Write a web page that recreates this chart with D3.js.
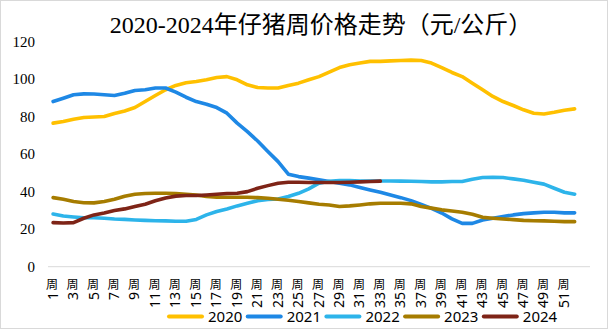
<!DOCTYPE html>
<html>
<head>
<meta charset="utf-8">
<script src="https://cdn.jsdelivr.net/npm/d3@7"></script>
<style>
	body { margin: 0; background: #fff; }
	svg { display: block; }
</style>
</head>
<body>
<svg id="chart"></svg>
<script>
var w = 608;
var h = 330;

// weeks 1..53 on the category axis, every other one labelled
var weeks = d3.range(1, 54);
var tickWeeks = d3.range(1, 52, 2);
var yTicks = [0, 20, 40, 60, 80, 100, 120];

var years = ["2020", "2021", "2022", "2023", "2024"];
var colors = ["#FFC000", "#1E88E5", "#2DB4EA", "#A67C00", "#7E2417"];

var p2020 = [76.5, 77.4, 78.6, 79.5, 79.8, 80, 81.6, 83, 84.8, 88,
	91.2, 94.3, 96.6, 98, 98.7, 99.6, 100.8, 101.3, 99.6, 96.9,
	95.5, 95.2, 95.2, 96.6, 97.8, 99.6, 101.3, 103.7, 106.1, 107.6,
	108.5, 109.4, 109.4, 109.7, 109.9, 110.1, 109.9, 108.5, 106.1, 103.5,
	101.3, 97.8, 94.3, 90.7, 88, 85.9, 83.6, 81.8, 81.4, 82.3, 83.4, 84.1];
var p2021 = [88, 89.8, 91.6, 92.1, 92, 91.6, 91.2, 92.4, 93.9, 94.3,
	95.2, 95.2, 93, 90.3, 88, 86.6, 84.8, 81.8, 76.5, 72,
	67, 61.4, 56, 49.3, 48, 47.2, 46.3, 45.4, 44.5, 43.6,
	42.2, 40.9, 39.7, 38.2, 36.8, 35.2, 33.2, 31.1, 28.6, 25.5,
	23.1, 23.1, 24.9, 25.8, 26.7, 27.6, 28.3, 28.7, 29, 29, 28.7, 28.7];
var p2022 = [28.1, 27, 26.5, 26.1, 26.1, 25.8, 25.4, 25.2, 24.9, 24.7,
	24.5, 24.4, 24.2, 24.2, 25.2, 27.6, 29.4, 30.8, 32.4, 33.8,
	35.1, 35.8, 36.1, 37.4, 39.1, 41.5, 44.5, 45.5, 45.9, 45.9,
	45.7, 45.7, 45.7, 45.7, 45.6, 45.5, 45.4, 45.2, 45.2, 45.4,
	45.4, 46.6, 47.5, 47.7, 47.5, 46.8, 46.1, 45, 44, 41.8, 39.7, 38.6];
var p2023 = [36.8, 35.9, 34.7, 34.1, 34, 34.7, 35.9, 37.5, 38.6, 39,
	39.1, 39.1, 39, 38.6, 38.2, 37.4, 37, 37, 37, 37,
	36.8, 36.5, 35.9, 35.4, 34.7, 34, 33.3, 32.9, 32.1, 32.4,
	32.9, 33.5, 33.8, 33.8, 33.8, 33.5, 32.1, 31.2, 30.3, 29.7,
	29, 27.9, 26.3, 25.8, 25.4, 25.1, 24.7, 24.5, 24.4, 24.2, 24, 24];
var p2024 = [23.5, 23.3, 23.5, 25.8, 27.6, 28.6, 29.9, 30.8, 32.1, 33.3,
	35.1, 36.6, 37.6, 37.9, 37.9, 38.2, 38.6, 39, 39.1, 40,
	41.8, 43.2, 44.5, 45, 45, 44.9, 44.9, 44.9, 44.9, 45,
	45.2, 45.4, 45.6];

var series = [p2020, p2021, p2022, p2023, p2024];

var svg = d3.select("#chart")
	.attr("width", w)
	.attr("height", h)
	.attr("viewBox", "0 0 " + w + " " + h);

//outer frame
svg.append("rect")
	.attr("x", 0.5).attr("y", 0.5)
	.attr("width", w - 1).attr("height", h - 2)
	.attr("fill", "#fff")
	.attr("stroke", "#d9d9d9");

svg.append("text")
	.attr("x", 321)
	.attr("y", 33)
	.attr("text-anchor", "middle")
	.attr("font-family", "'Liberation Serif', 'Noto Sans CJK SC'")
	.attr("font-size", 24)
	.attr("fill", "#000")
	.text("2020-2024年仔猪周价格走势（元/公斤）");

var x = d3.scaleBand()
	.domain(weeks)
	.range([48, 590])
	.padding(0);

var y = d3.scaleLinear()
	.domain([0, 120])
	.range([266.7, 41.5]);

var cx = function (wk) { return x(wk) + x.bandwidth() / 2 };

//y labels, no axis line
var yAxis = svg.append("g")
	.attr("transform", "translate(35,0)")
	.call(d3.axisLeft(y).tickValues(yTicks).tickSize(0).tickPadding(0));
yAxis.attr("font-family", null);
yAxis.select(".domain").remove();
yAxis.selectAll("text")
	.style("font-family", "'Liberation Serif', 'Times New Roman', serif")
	.attr("font-size", 15)
	.attr("fill", "#000");

//category axis line
svg.append("line")
	.attr("x1", 48).attr("x2", 590)
	.attr("y1", y(0)).attr("y2", y(0))
	.attr("stroke", "#d9d9d9")
	.attr("stroke-width", 1);

// labels: 周 stays upright, the number is turned -90
var lab = svg.selectAll(".xlab")
	.data(tickWeeks)
	.enter().append("g")
	.attr("class", "xlab")
	.attr("transform", d => "translate(" + cx(d) + ",0)");

lab.append("text")
	.attr("x", -1)
	.attr("y", 289)
	.attr("text-anchor", "middle")
	.attr("font-family", "'Noto Sans CJK SC', sans-serif")
	.attr("font-size", 12)
	.attr("fill", "#000")
	.text("周");

lab.append("text")
	.attr("transform", "translate(4.5,292) rotate(-90)")
	.attr("text-anchor", "end")
	.attr("font-family", "'Noto Sans', sans-serif")
	.attr("font-size", 14)
	.attr("fill", "#000")
	.text(d => d);

var line = d3.line()
	.x((d, i) => cx(weeks[i]))
	.y(d => y(d));

svg.selectAll(".series")
	.data(series)
	.enter().append("path")
	.attr("class", "series")
	.attr("d", d => line(d))
	.attr("fill", "none")
	.attr("stroke", (d, i) => colors[i])
	.attr("stroke-width", 3.6)
	.attr("stroke-linejoin", "round")
	.attr("stroke-linecap", "round");

var legend = svg.selectAll(".legend")
	.data(years)
	.enter().append("g")
	.attr("class", "legend")
	.attr("transform", (d, i) => "translate(" + (169 + i * 78.7) + ",316.5)");

legend.append("line")
	.attr("x1", 0).attr("x2", 33)
	.attr("stroke", (d, i) => colors[i])
	.attr("stroke-width", 4)
	.attr("stroke-linecap", "round");

legend.append("text")
	.attr("x", 39)
	.attr("dy", "0.36em")
	.attr("font-family", "'Noto Sans', sans-serif")
	.attr("font-size", 15)
	.attr("fill", "#000")
	.text(d => d);
</script>
</body>
</html>
